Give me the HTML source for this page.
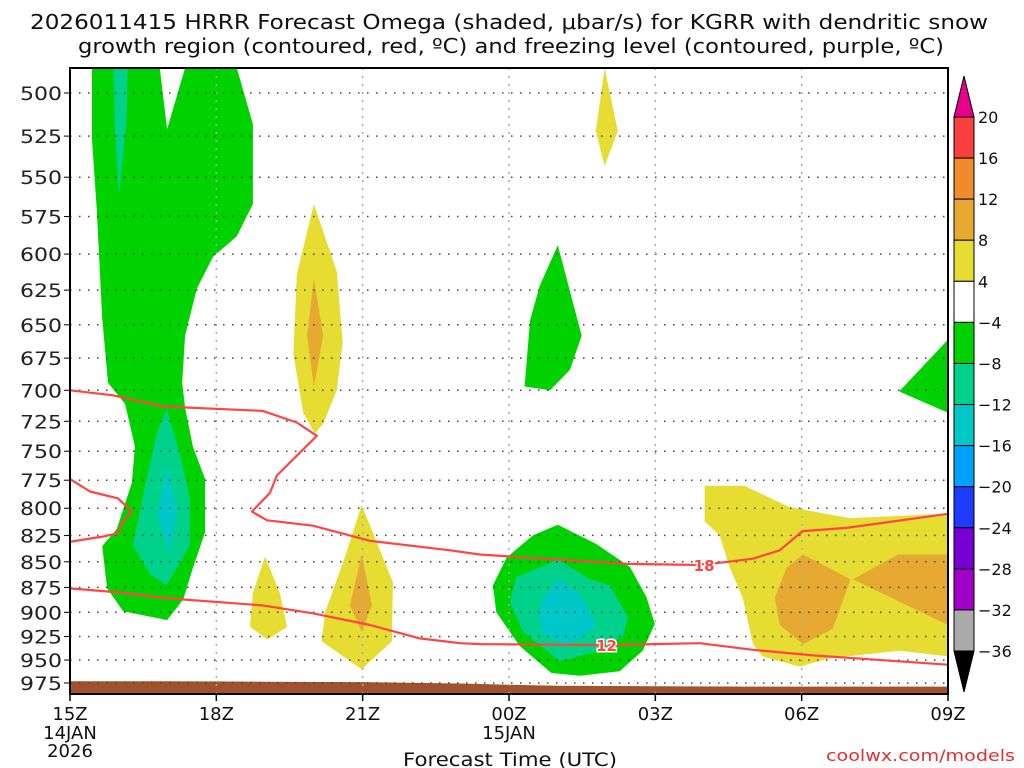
<!DOCTYPE html>
<html><head><meta charset="utf-8"><style>
body{margin:0;background:#fff;}
svg{display:block;font-family:"DejaVu Sans","Liberation Sans",sans-serif;}
</style></head><body>
<svg id="c" width="1024" height="768" xmlns="http://www.w3.org/2000/svg">
<text x="30" y="29" textLength="958" lengthAdjust="spacingAndGlyphs" font-size="20" fill="#111">2026011415 HRRR Forecast Omega (shaded, μbar/s) for KGRR with dendritic snow</text>
<text x="78" y="53" textLength="866" lengthAdjust="spacingAndGlyphs" font-size="20" fill="#111">growth region (contoured, red, ºC) and freezing level (contoured, purple, ºC)</text>
<g id="shade"></g>
<g id="grid"></g>
<g id="lines"></g>
<g id="axes"></g>
<g id="cbar"></g>
<text x="403" y="766" textLength="214" lengthAdjust="spacingAndGlyphs" font-size="19" fill="#111">Forecast Time (UTC)</text>
<text x="826" y="761" textLength="189" lengthAdjust="spacingAndGlyphs" font-size="16" fill="#e03030">coolwx.com/models</text>
</svg>
<script>
const NS="http://www.w3.org/2000/svg";
const xTicks=["15Z","18Z","21Z","00Z","03Z","06Z","09Z"];
const xTickHours=[0,3,6,9,12,15,18];
const yTicks=[500,525,550,575,600,625,650,675,700,725,750,775,800,825,850,875,900,925,950,975];
const cbLevels=[20,16,12,8,4,-4,-8,-12,-16,-20,-24,-28,-32,-36];
const cbColors=["#f84040","#f08a2a","#e6aa32","#e6dc32","#ffffff","#00d200","#00d28c","#00c8c8","#00a0ff","#1e3cff","#7800d2","#a000c8","#aaaaaa"];
// contour polygons as [hour since 15Z, hPa]
const greenMain=[[0.45,486],[1.84,486],[1.99,521],[2.36,486],[3.42,486],[3.75,518],[3.75,567],[3.42,588],[2.93,602],[2.6,624],[2.36,658],[2.3,694],[2.36,714],[2.52,746],[2.77,774],[2.77,822],[2.52,856],[2.32,887],[1.99,908],[1.09,899],[0.76,876],[0.66,835],[0.96,819],[1.27,777],[1.33,746],[1.13,711],[0.78,694],[0.66,645],[0.55,571],[0.45,527]];
const tealTop=[[0.89,486],[1.18,486],[1.16,515],[1.0,562],[0.92,520]];
const tealLeft=[[1.98,715],[2.25,752],[2.46,792],[2.46,834],[2.25,851],[1.98,873],[1.64,862],[1.29,834],[1.57,774],[1.78,735]];
const cyanLeft=[[1.99,762],[2.19,801],[2.05,841],[1.79,807]];
const yellow20=[[5.0,567],[5.47,612],[5.59,663],[5.47,700],[5.19,727],[5.02,735],[4.78,718],[4.58,672],[4.65,614]];
const orange20=[[5.0,617],[5.19,658],[5.0,697],[4.86,658]];
const yellow19=[[4.0,845],[4.3,880],[4.45,915],[4.05,928],[3.69,915],[3.75,880]];
const yellow21=[[5.98,797],[6.62,870],[6.6,930],[5.98,960],[5.16,930],[5.23,900],[5.64,845]];
const orange21=[[5.98,843],[6.19,893],[5.98,920],[5.74,893]];
const greenBlob=[[10.0,815],[10.79,833],[11.48,855],[11.82,885],[11.99,912],[11.74,940],[11.27,962],[10.45,967],[9.87,964],[9.22,935],[8.74,900],[8.67,873],[8.95,846],[9.49,825]];
const tealBlob=[[10.0,848],[10.66,867],[11.07,873],[11.44,905],[11.34,925],[10.66,943],[10.04,951],[9.29,920],[9.02,890],[9.15,865]];
const cyanBlob=[[10.04,867],[10.45,882],[10.79,913],[10.58,923],[10.18,933],[9.7,923],[9.6,900],[9.7,885]];
const greenUpper=[[10.0,594],[10.49,658],[10.25,684],[9.84,700],[9.32,697],[9.43,647],[9.63,622]];
const yellowTop=[[10.96,486],[11.23,522],[10.96,543],[10.78,522]];
const greenRight=[[18.0,661],[18.0,718],[17.0,701]];
const yellowRight=[[13.01,780],[13.83,780],[14.75,799],[15.98,809],[18.0,805],[18.0,946],[17.01,940],[15.57,948],[14.96,957],[14.2,946],[14.0,933],[13.79,885],[13.52,855],[13.32,825],[13.01,812]];
const orangeR1=[[15.03,843],[16.0,867],[15.64,917],[15.03,933],[14.55,913],[14.45,885],[14.69,856]];
const orangeR2=[[16.05,867],[16.97,843],[18.0,843],[18.0,913]];
const line18=[[0,700],[0.88,704],[1.91,713],[3.95,716.5],[4.65,726],[5.06,737],[4.24,771],[4.1,786],[3.73,803],[4.04,811],[4.98,816],[6.15,830],[7.79,839],[8.4,843],[11.41,852],[12.77,853],[13.32,851],[14.0,847],[14.55,839],[15.02,821],[15.92,818],[18.0,805]];
const line12=[[0,876],[1.02,880],[2.05,886],[3.95,893],[4.98,901],[6.15,913],[7.17,927],[8.0,932],[8.4,933],[11.0,934],[12.91,932],[14.0,939],[15.23,945],[18.0,955]];
const lineLeft=[[0,774],[0.41,785],[0.98,791],[1.27,803],[1.09,812],[0.98,823],[0.68,826],[0,831]];
const sfcHours=[0,2,4,6,8,9,10,12,14,16,18];
const sfcP=[973,973,973.5,974,975.5,977,978,978.5,979,979,979];

const X0=70,X1=948,Y0=68,Y1=694;
function x(h){return X0+h*(X1-X0)/18;}
function y(p){return 93+883.5*Math.log(p/500);}
function pts(a){return a.map(d=>x(d[0]).toFixed(1)+","+y(d[1]).toFixed(1)).join(" ");}
function mk(tag,attrs,parent){const e=document.createElementNS(NS,tag);for(const k in attrs)e.setAttribute(k,attrs[k]);parent.appendChild(e);return e;}
const shade=document.getElementById("shade");
const cl=mk("clipPath",{id:"clip"},document.getElementById("c"));
mk("rect",{x:X0,y:Y0,width:X1-X0,height:Y1-Y0},cl);
shade.setAttribute("clip-path","url(#clip)");
const polys=[["green-region-left",greenMain,"#00d200"],["teal-region-top",tealTop,"#00d28c"],["teal-region-left",tealLeft,"#00d28c"],["cyan-region-left",cyanLeft,"#00c8c8"],
["yellow-region-20z",yellow20,"#e6dc32"],["orange-region-20z",orange20,"#e6aa32"],["yellow-region-19z",yellow19,"#e6dc32"],["yellow-region-21z",yellow21,"#e6dc32"],["orange-region-21z",orange21,"#e6aa32"],
["green-region-01z",greenBlob,"#00d200"],["teal-region-01z",tealBlob,"#00d28c"],["cyan-region-01z",cyanBlob,"#00c8c8"],["green-region-upper",greenUpper,"#00d200"],["yellow-region-top",yellowTop,"#e6dc32"],
["green-region-right",greenRight,"#00d200"],["yellow-region-right",yellowRight,"#e6dc32"],["orange-region-right-1",orangeR1,"#e6aa32"],["orange-region-right-2",orangeR2,"#e6aa32"]];
polys.forEach(pp=>{
  const e=mk("polygon",{points:pts(pp[1]),fill:pp[2]},shade);
  
  
});
const terr=sfcHours.map((h,i)=>[h,sfcP[i]]);
const tp=pts(terr)+" "+x(18)+","+Y1+" "+x(0)+","+Y1;
const te=mk("polygon",{points:tp,fill:"#a0522d"},shade);


const grid=document.getElementById("grid");
yTicks.forEach(p=>{
  const g=mk("line",{x1:X0,x2:X1,y1:y(p),y2:y(p),stroke:"#444","stroke-width":1.5,"stroke-dasharray":"1.5,7.5"},grid);
  
  
});
xTickHours.slice(1,-1).forEach(h=>{
  const g=mk("line",{x1:x(h),x2:x(h),y1:Y0,y2:Y1,stroke:"#aaa","stroke-width":1.5,"stroke-dasharray":"2,6"},grid);
  
  
});
const lines=document.getElementById("lines");
lines.setAttribute("clip-path","url(#clip)");
[["dgz-contour-18",line18],["dgz-contour-12",line12],["dgz-contour-left",lineLeft]].forEach(l=>{
  const e=mk("polyline",{points:pts(l[1]),fill:"none",stroke:"#f44","stroke-width":2.2,"stroke-linejoin":"round"},lines);
  
  
});
[["18",13.0,853],["12",11.0,934]].forEach(t=>{
  const e=mk("text",{x:x(t[1]),y:y(t[2])+6,"text-anchor":"middle","font-size":15,"font-weight":"bold",fill:"#f44",stroke:"#fff","stroke-width":3,"paint-order":"stroke"},lines);
  e.textContent=t[0];
  
  
});
const ax=document.getElementById("axes");
mk("rect",{x:X0,y:Y0,width:X1-X0,height:Y1-Y0,fill:"none",stroke:"#000","stroke-width":2},ax);
yTicks.forEach(p=>{
  mk("line",{x1:X0-6,x2:X0,y1:y(p),y2:y(p),stroke:"#000","stroke-width":1},ax);
  const t=mk("text",{x:X0-8,y:y(p)+7,"text-anchor":"end","font-size":19,textLength:42,lengthAdjust:"spacingAndGlyphs",fill:"#222"},ax);
  t.textContent=p;
  
  
});
xTickHours.forEach((h,i)=>{
  mk("line",{x1:x(h),x2:x(h),y1:Y1,y2:Y1+7,stroke:"#000","stroke-width":1.5},ax);
  const t=mk("text",{x:x(h),y:720,"text-anchor":"middle","font-size":18,fill:"#111"},ax);
  t.textContent=xTicks[i];
  
  
});
[["14JAN",0,739],["2026",0,757],["15JAN",9,739]].forEach(d=>{
  const t=mk("text",{x:x(d[1]),y:d[2],"text-anchor":"middle","font-size":18,fill:"#111"},ax);
  t.textContent=d[0];
  
  
});
const cb=document.getElementById("cbar");
const cbX=954,cbW=20,cbTop=117,cbStep=(651-117)/13;
const tri1=mk("polygon",{points:`${cbX},${cbTop} ${cbX+cbW},${cbTop} ${cbX+cbW/2},76`,fill:"#e6008c",stroke:"#000"},cb);


cbColors.forEach((c,i)=>{
  const r=mk("rect",{x:cbX,y:cbTop+i*cbStep,width:cbW,height:cbStep,fill:c,stroke:"#000","stroke-width":1},cb);
  
  
});
const tri2=mk("polygon",{points:`${cbX},651 ${cbX+cbW},651 ${cbX+cbW/2},692`,fill:"#000",stroke:"#000"},cb);


cbLevels.forEach((v,i)=>{
  const t=mk("text",{x:cbX+cbW+4,y:cbTop+i*cbStep+6,"font-size":16,fill:"#111"},cb);
  t.textContent=v<0?"−"+Math.abs(v):String(v);
  
  
});
</script>
</body></html>
